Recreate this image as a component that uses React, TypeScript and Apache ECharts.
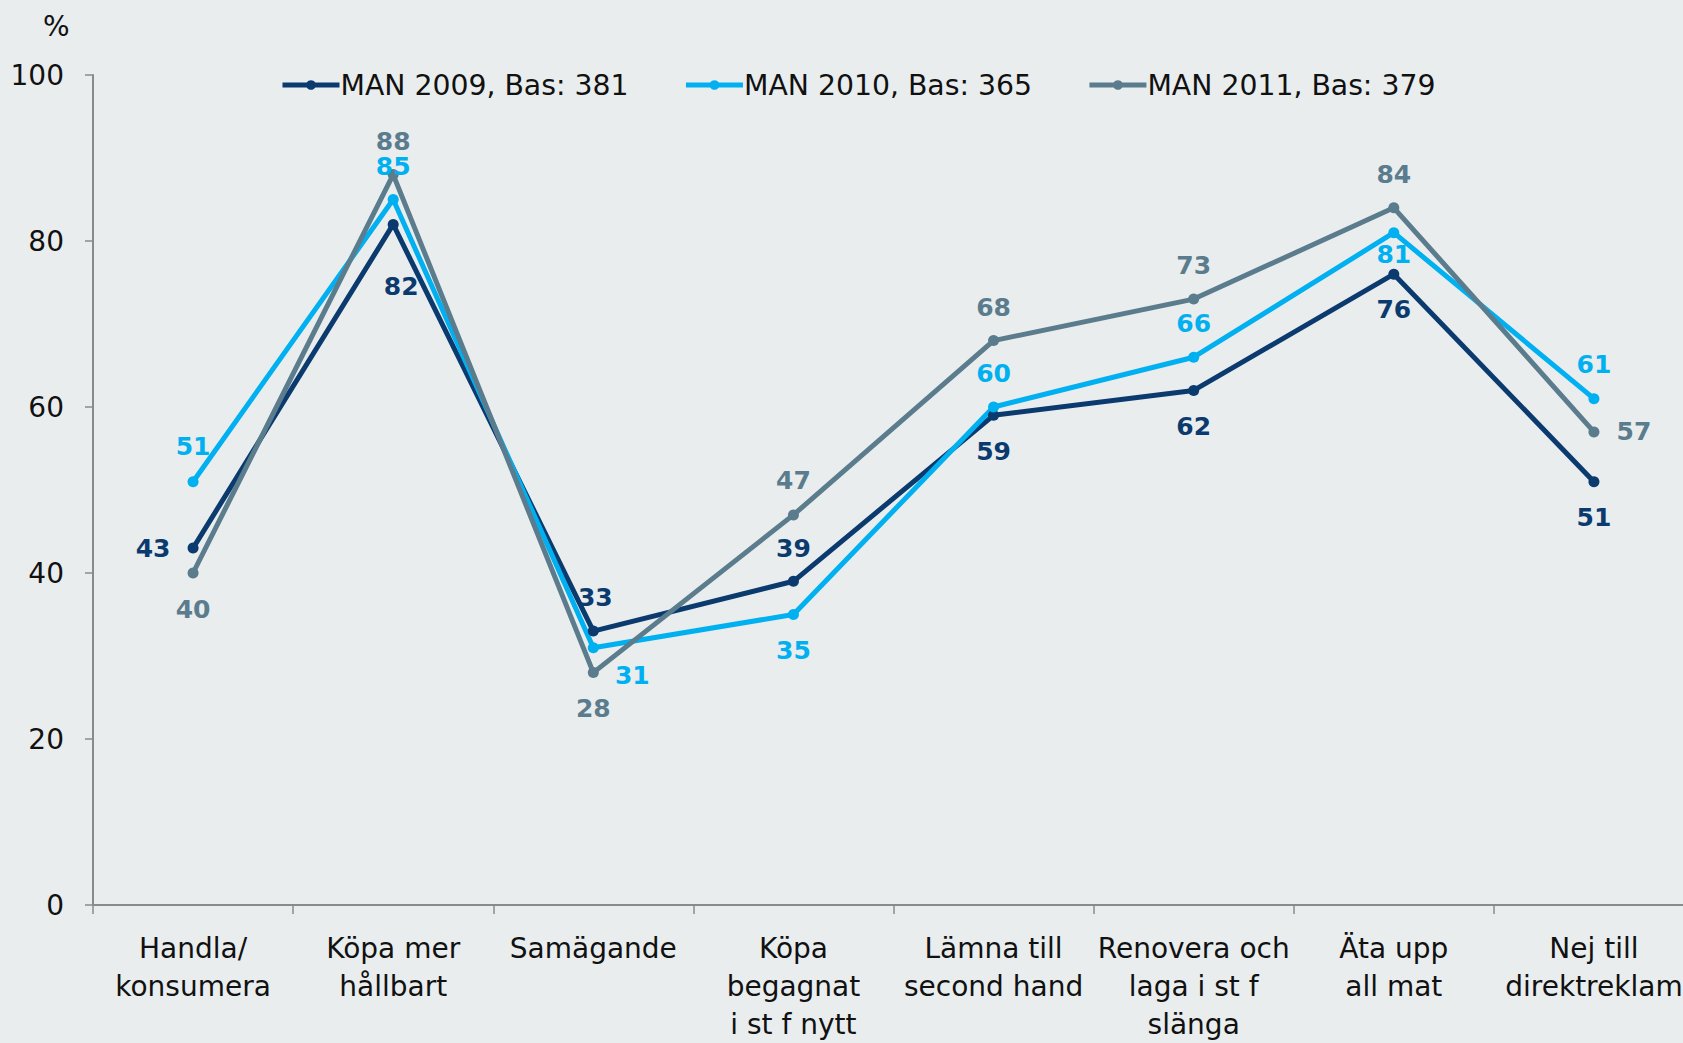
import React, { useEffect, useRef } from "react";
import * as echarts from "echarts";

const categories = [
  "Handla/\nkonsumera",
  "Köpa mer\nhållbart",
  "Samägande",
  "Köpa\nbegagnat\ni st f nytt",
  "Lämna till\nsecond hand",
  "Renovera och\nlaga i st f\nslänga",
  "Äta upp\nall mat",
  "Nej till\ndirektreklam",
];

const seriesNames = ["MAN 2009, Bas: 381", "MAN 2010, Bas: 365", "MAN 2011, Bas: 379"];
const man2009 = [43, 82, 33, 39, 59, 62, 76, 51];
const man2010 = [51, 85, 31, 35, 60, 66, 81, 61];
const man2011 = [40, 88, 28, 47, 68, 73, 84, 57];

const yTicks = [0, 20, 40, 60, 80, 100];

// label offsets (pixels) relative to each point
const off2009 = [[-40, 0], [8, 62], [2, -34], [0, -33], [0, 36], [0, 36], [0, 35], [0, 36]];
const off2010 = [[0, -35], [0, -33], [39, 28], [0, 36], [0, -34], [0, -34], [0, 22], [0, -34]];
const off2011 = [[0, 36], [0, -33], [0, 36], [0, -34], [0, -33], [0, -34], [0, -33], [40, 0]];

const colors = ["#0b3a6f", "#00b0f0", "#5b7c8d"];

export default function App() {
  const ref = useRef<HTMLDivElement>(null);
  useEffect(() => {
    if (!ref.current) return;
    const chart = echarts.init(ref.current, null, { renderer: "svg" });
    const font = "'DejaVu Sans', Verdana, sans-serif";
    const mk = (name: string, vals: number[], offs: number[][], color: string) => ({
      name,
      type: "line",
      data: vals.map((v, i) => ({
        value: v,
        label: { offset: offs[i] },
      })),
      symbol: "circle",
      symbolSize: 11,
      lineStyle: { width: 5, color },
      itemStyle: { color },
      label: {
        show: true,
        position: "inside",
        color,
        fontFamily: font,
        fontWeight: "bold",
        fontSize: 25,
      },
      emphasis: { disabled: true },
    });
    chart.setOption({
      animation: false,
      backgroundColor: "#e9edee",
      textStyle: { fontFamily: font },
      legend: {
        top: 66,
        left: 275,
        itemWidth: 57,
        itemHeight: 12,
        itemGap: 55,
        lineStyle: { width: 5 },
        textStyle: { fontSize: 28.3, color: "#111", fontFamily: font, padding: [0, 0, 0, -4] },
        data: seriesNames,
      },
      graphic: [
        {
          type: "text",
          left: 43,
          top: 12,
          style: { text: "%", fontSize: 28, fill: "#111", fontFamily: font },
        },
      ],
      grid: { left: 93, top: 75, bottom: 136, width: 1601, containLabel: false },
      xAxis: {
        type: "category",
        data: categories,
        boundaryGap: true,
        axisLine: { lineStyle: { color: "#8a8a8a", width: 2 } },
        axisTick: { show: true, length: 9, lineStyle: { color: "#8a8a8a", width: 1.5 } },
        axisLabel: {
          interval: 0,
          color: "#111",
          fontSize: 28,
          lineHeight: 38,
          margin: 24,
          fontFamily: font,
        },
      },
      yAxis: {
        type: "value",
        min: 0,
        max: 100,
        interval: 20,
        splitLine: { show: false },
        axisLine: { show: true, lineStyle: { color: "#8a8a8a", width: 2 } },
        axisTick: { show: true, length: 8, lineStyle: { color: "#8a8a8a", width: 1.5 } },
        axisLabel: {
          color: "#111",
          fontSize: 28,
          margin: 29,
          fontFamily: font,
          formatter: (v: number) => (yTicks.includes(v) ? String(v) : ""),
        },
      },
      series: [
        mk(seriesNames[0], man2009, off2009, colors[0]),
        mk(seriesNames[1], man2010, off2010, colors[1]),
        mk(seriesNames[2], man2011, off2011, colors[2]),
      ],
    });
    return () => chart.dispose();
  }, []);
  return (
    <div style={{ position: "fixed", left: 0, top: 0, width: 1683, height: 1043, overflow: "hidden", background: "#e9edee" }}>
      <div ref={ref} style={{ position: "absolute", left: 0, top: 0, width: 1720, height: 1043 }} />
    </div>
  );
}
